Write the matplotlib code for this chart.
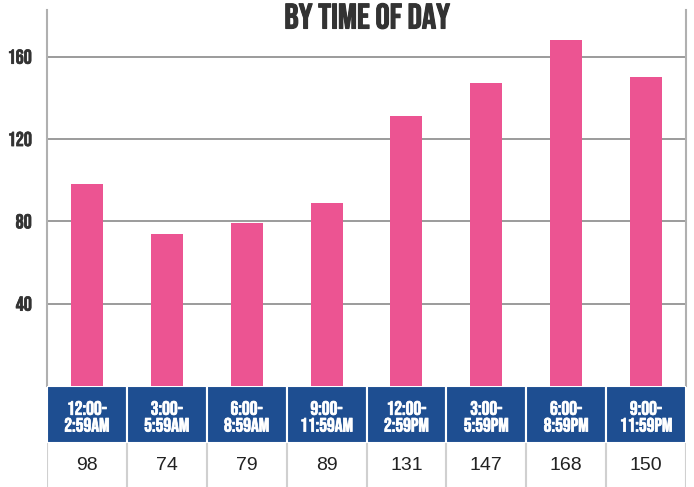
import numpy as np
import matplotlib
matplotlib.use("Agg")
import matplotlib.pyplot as plt
import matplotlib.patheffects as pe

plt.rcParams.update({'font.size': 12})

CATS = ["12:00-\n2:59AM", "3:00-\n5:59AM", "6:00-\n8:59AM", "9:00-\n11:59AM",
        "12:00-\n2:59PM", "3:00-\n5:59PM", "6:00-\n8:59PM", "9:00-\n11:59PM"]
VALUES = [98, 74, 79, 89, 131, 147, 168, 150]
Y_TICKS = [40, 80, 120, 160]

PINK = "#ec5492"
BLUE = "#1e4e91"
BEBAS = ['Bebas Neue', 'DejaVu Sans']

W, H = 694, 487
fig = plt.figure(figsize=(W / 100, H / 100), dpi=100)

L, R = 47, 686
def box(top, bottom):
    return [L / W, 1 - bottom / H, (R - L) / W, (bottom - top) / H]

def bold(color, w=0.6):
    return [pe.withStroke(linewidth=w, foreground=color)]

x = np.arange(len(CATS))

# main bars
ax = fig.add_axes(box(10, 386))
ax.bar(x, VALUES, width=0.4, color=PINK, zorder=3)
ax.set_xlim(-0.5, len(CATS) - 0.5)
ax.set_ylim(0, 182.7)
ax.set_yticks(Y_TICKS)
ax.set_yticklabels([str(t) for t in Y_TICKS], family=BEBAS,
                   fontsize=14.5, color="#333333")
for t in ax.get_yticklabels():
    t.set_path_effects(bold("#333333", 0.5))
ax.yaxis.grid(True, color="#8a8a8a", lw=1.2)
ax.tick_params(axis='y', length=0, pad=11)
ax.tick_params(axis='x', length=0, labelbottom=False)
for s in ['top', 'bottom']:
    ax.spines[s].set_visible(False)
for s in ['left', 'right']:
    ax.spines[s].set_color("#b0b0b0")
    ax.spines[s].set_linewidth(1.5)

fig.text(367 / W, 1 - 16 / H, "BY TIME OF DAY", ha='center', va='center',
         family=BEBAS, fontsize=25.5, color="#333333",
         path_effects=bold("#333333", 0.8))

# blue header band
axb = fig.add_axes(box(386, 443))
axb.bar(x, 1, width=1, color=BLUE, edgecolor="white", lw=1.5)
for i, c in enumerate(CATS):
    axb.text(i, 0.47, c, ha='center', va='center', color='white', family=BEBAS,
             fontsize=14, linespacing=1.2, path_effects=bold("white", 0.5))
axb.set_xlim(-0.5, len(CATS) - 0.5)
axb.set_ylim(0, 1)
axb.axis('off')

# value row
axv = fig.add_axes(box(443, 487))
axv.set_xlim(-0.5, len(CATS) - 0.5)
axv.set_ylim(0, 1)
for i, v in enumerate(VALUES):
    axv.text(i, 0.5, str(v), ha='center', va='center', color="#222222",
             family='Liberation Sans', fontsize=14)
for b in np.arange(len(CATS) + 1) - 0.5:
    axv.axvline(b, color="#d0d0d0", lw=1.5)
axv.axis('off')

fig.savefig("out.png", dpi=100)
